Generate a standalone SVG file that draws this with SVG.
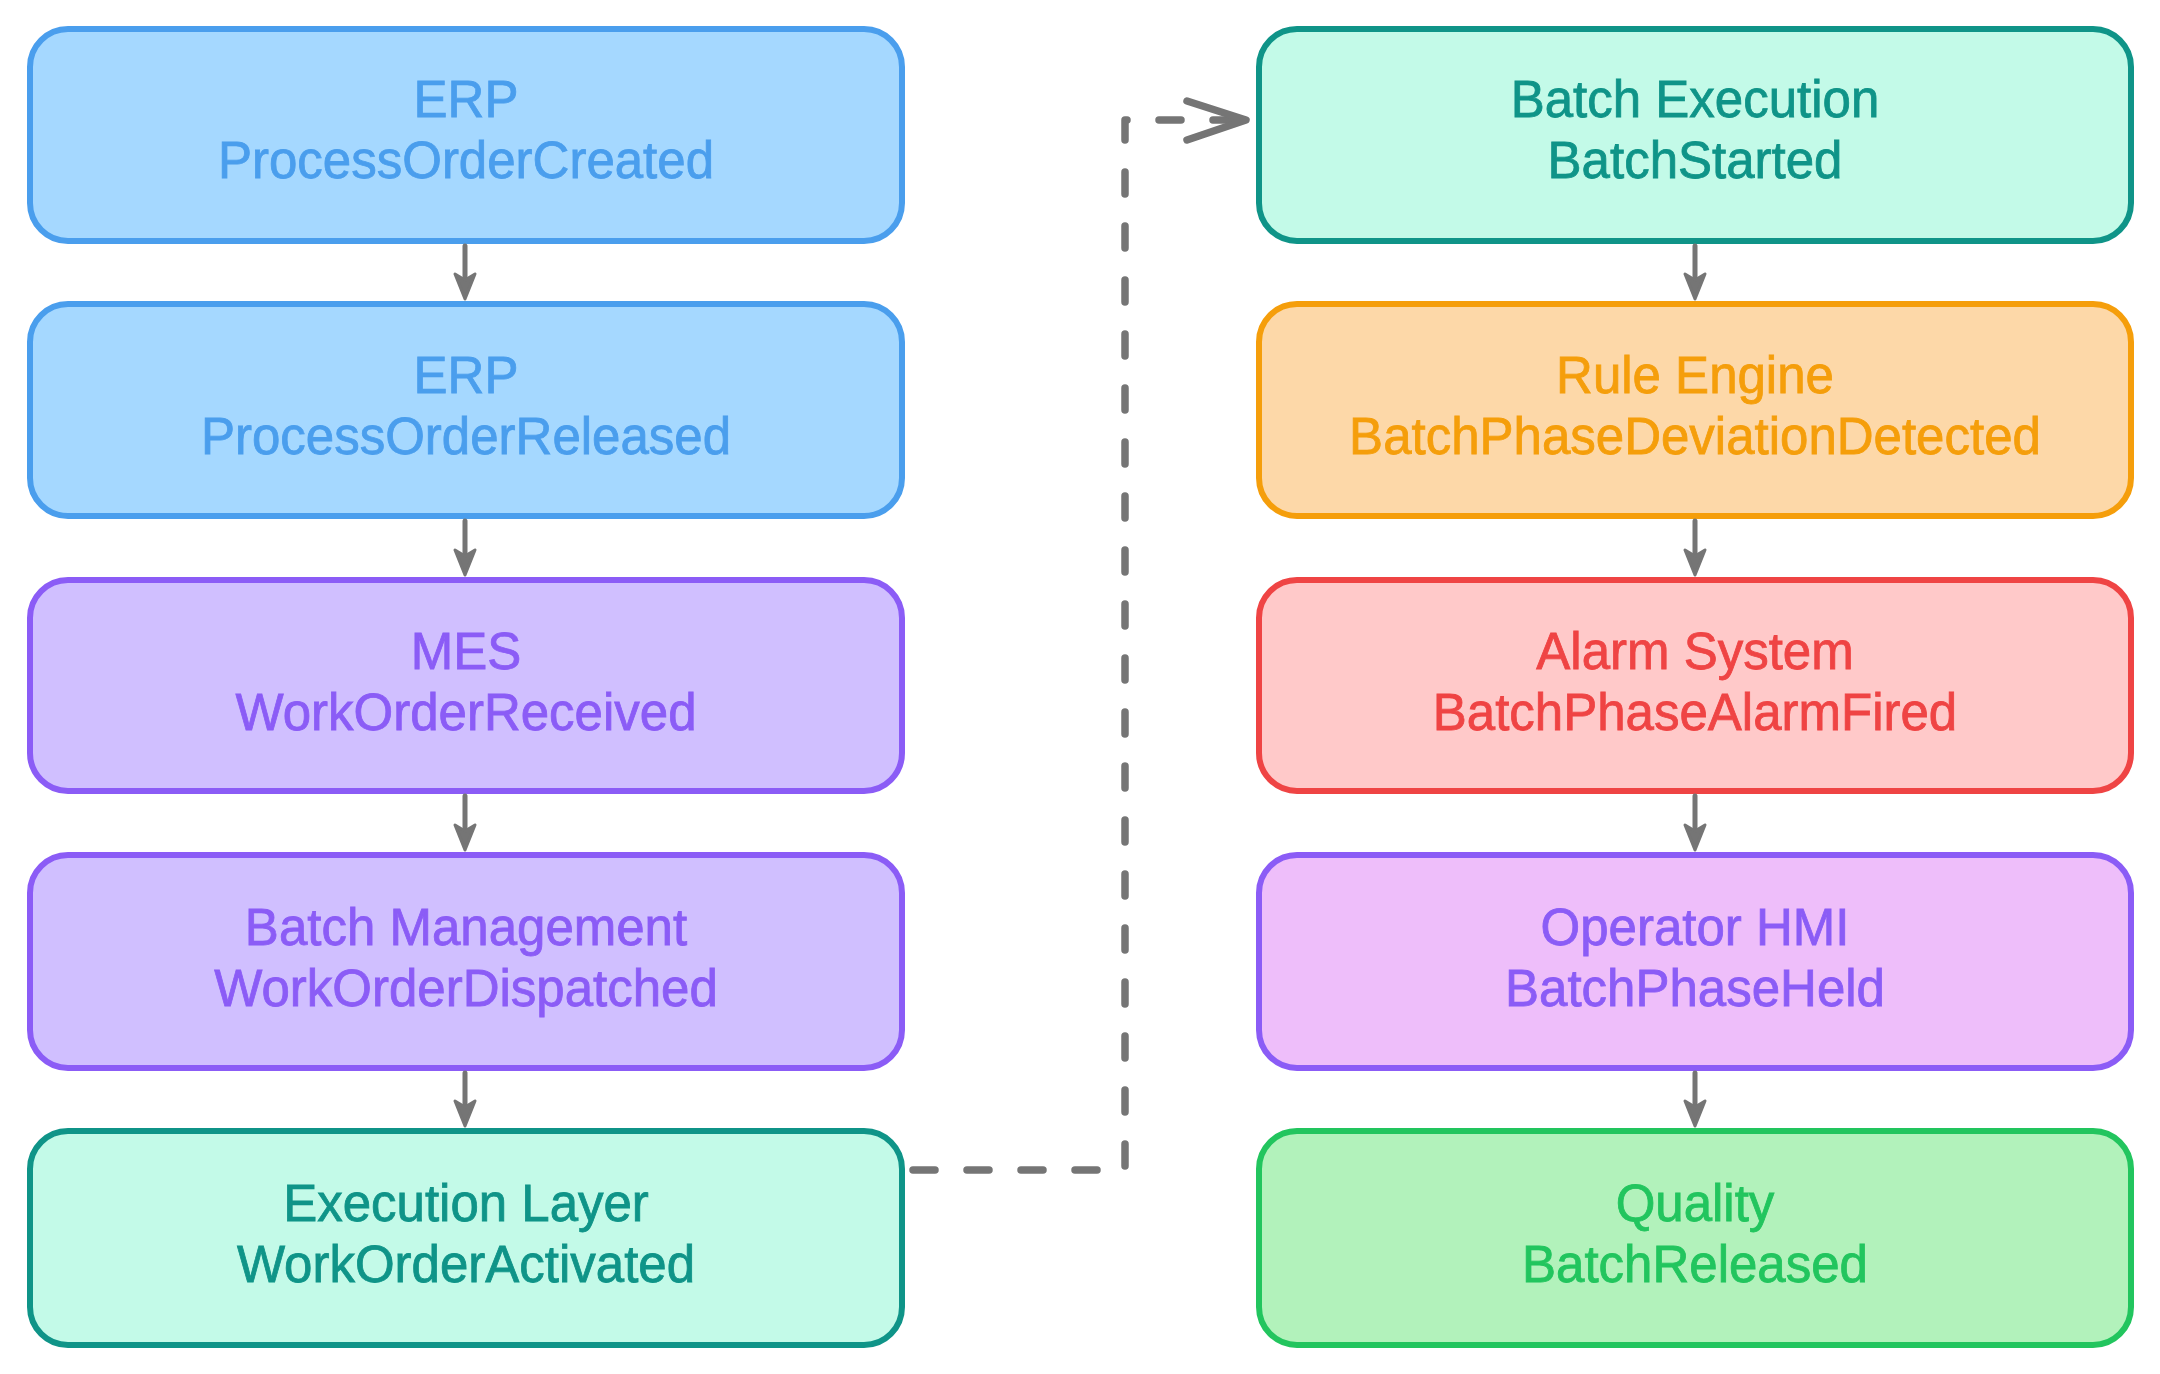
<svg xmlns="http://www.w3.org/2000/svg" width="2160" height="1374" viewBox="0 0 2160 1374">
<defs>
<style>
.box{stroke-width:6;stroke-linejoin:round}
.t{font-family:"Liberation Sans",Arial,sans-serif;font-size:51px;text-anchor:middle;stroke-width:0.8}
.blue rect{fill:#a5d8ff;stroke:#4a9eed}.blue text{fill:#4a9eed;stroke:#4a9eed}
.violet rect{fill:#d0bfff;stroke:#8b5cf6}.violet text{fill:#8b5cf6;stroke:#8b5cf6}
.teal rect{fill:#c3fae8;stroke:#0f9488}.teal text{fill:#0f9488;stroke:#0f9488}
.orange rect{fill:#fdd8a8;stroke:#f59e0b}.orange text{fill:#f59e0b;stroke:#f59e0b}
.red rect{fill:#ffc9c9;stroke:#ef4444}.red text{fill:#ef4444;stroke:#ef4444}
.pink rect{fill:#eebefa;stroke:#8b5cf6}.pink text{fill:#8b5cf6;stroke:#8b5cf6}
.green rect{fill:#b2f2bb;stroke:#22c55e}.green text{fill:#22c55e;stroke:#22c55e}
.ln{stroke:#757575;stroke-width:5;fill:none;stroke-linecap:round;stroke-linejoin:round}
.hd{fill:#757575;stroke:#757575;stroke-width:3;stroke-linejoin:round}
.dash{stroke:#757575;stroke-width:7.5;fill:none;stroke-linecap:round;stroke-linejoin:round;stroke-dasharray:22 32}
</style>
</defs>
<rect width="2160" height="1374" fill="#ffffff"/>
<g id="n1" class="blue"><rect class="box" x="30" y="29" width="872" height="212" rx="38"/><text class="t" x="466" y="117">ERP</text><text class="t" x="466" y="178">ProcessOrderCreated</text></g>
<g id="n2" class="blue"><rect class="box" x="30" y="304" width="872" height="212" rx="38"/><text class="t" x="466" y="393">ERP</text><text class="t" x="466" y="454">ProcessOrderReleased</text></g>
<g id="n3" class="violet"><rect class="box" x="30" y="580" width="872" height="211" rx="38"/><text class="t" x="466" y="669">MES</text><text class="t" x="466" y="730">WorkOrderReceived</text></g>
<g id="n4" class="violet"><rect class="box" x="30" y="855" width="872" height="213" rx="38"/><text class="t" x="466" y="945">Batch Management</text><text class="t" x="466" y="1006">WorkOrderDispatched</text></g>
<g id="n5" class="teal"><rect class="box" x="30" y="1131" width="872" height="214" rx="38"/><text class="t" x="466" y="1221">Execution Layer</text><text class="t" x="466" y="1282">WorkOrderActivated</text></g>
<g id="n6" class="teal"><rect class="box" x="1259" y="29" width="872" height="212" rx="38"/><text class="t" x="1695" y="117">Batch Execution</text><text class="t" x="1695" y="178">BatchStarted</text></g>
<g id="n7" class="orange"><rect class="box" x="1259" y="304" width="872" height="212" rx="38"/><text class="t" x="1695" y="393">Rule Engine</text><text class="t" x="1695" y="454">BatchPhaseDeviationDetected</text></g>
<g id="n8" class="red"><rect class="box" x="1259" y="580" width="872" height="211" rx="38"/><text class="t" x="1695" y="669">Alarm System</text><text class="t" x="1695" y="730">BatchPhaseAlarmFired</text></g>
<g id="n9" class="pink"><rect class="box" x="1259" y="855" width="872" height="213" rx="38"/><text class="t" x="1695" y="945">Operator HMI</text><text class="t" x="1695" y="1006">BatchPhaseHeld</text></g>
<g id="n10" class="green"><rect class="box" x="1259" y="1131" width="872" height="214" rx="38"/><text class="t" x="1695" y="1221">Quality</text><text class="t" x="1695" y="1282">BatchReleased</text></g>
<g id="connectors">
<path class="ln" d="M465 246 V292"/><path class="hd" d="M455 274 L465 299 L475 274 L465 280 Z"/>
<path class="ln" d="M465 521 V568"/><path class="hd" d="M455 550 L465 575 L475 550 L465 556 Z"/>
<path class="ln" d="M465 796 V843"/><path class="hd" d="M455 825 L465 850 L475 825 L465 831 Z"/>
<path class="ln" d="M465 1073 V1119"/><path class="hd" d="M455 1101 L465 1126 L475 1101 L465 1107 Z"/>
<path class="ln" d="M1695 246 V292"/><path class="hd" d="M1685 274 L1695 299 L1705 274 L1695 280 Z"/>
<path class="ln" d="M1695 521 V568"/><path class="hd" d="M1685 550 L1695 575 L1705 550 L1695 556 Z"/>
<path class="ln" d="M1695 796 V843"/><path class="hd" d="M1685 825 L1695 850 L1705 825 L1695 831 Z"/>
<path class="ln" d="M1695 1073 V1119"/><path class="hd" d="M1685 1101 L1695 1126 L1705 1101 L1695 1107 Z"/>
<path class="dash" d="M913 1170 H1125 V120 H1240"/>
<path class="ln" style="stroke-width:7.5" d="M1187 101 L1246 120 L1187 140"/>
</g>
</svg>
